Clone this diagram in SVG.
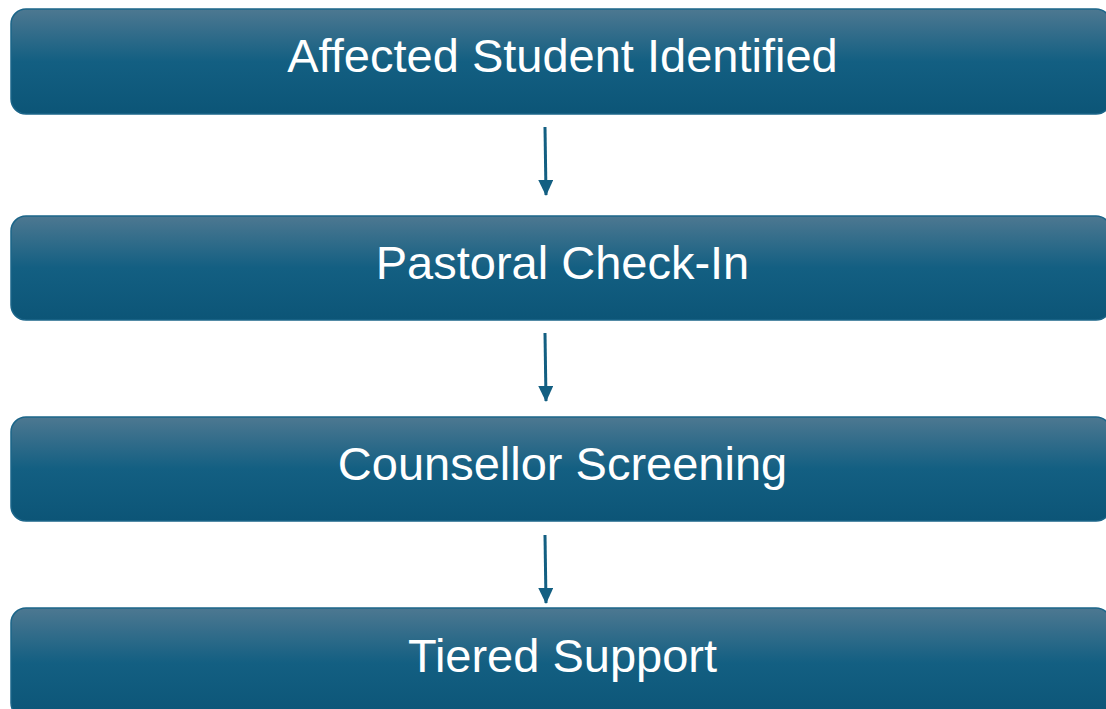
<svg xmlns="http://www.w3.org/2000/svg" width="1106" height="709" viewBox="0 0 1106 709">
  <defs>
    <linearGradient id="g" x1="0" y1="0" x2="0" y2="1">
      <stop offset="0" stop-color="#4d7891"/>
      <stop offset="0.5" stop-color="#135f82"/>
      <stop offset="1" stop-color="#0c5577"/>
    </linearGradient>
    <marker id="ah" markerWidth="16" markerHeight="15" refX="15" refY="7.5" orient="auto" markerUnits="userSpaceOnUse" viewBox="0 0 16 15">
      <path d="M0,0 L16,7.5 L0,15 Z" fill="#135f82"/>
    </marker>
    <style>
      .box { fill: url(#g); stroke: #1b6589; stroke-width: 1.5; }
      .lbl { font-family: "Liberation Sans", Arial, sans-serif; font-size: 47px; fill: #ffffff; text-anchor: middle; }
      .conn { stroke: #135f82; stroke-width: 3; fill: none; }
    </style>
  </defs>
  <rect width="1106" height="709" fill="#ffffff"/>
  <g id="node-affected">
    <rect class="box" x="11" y="9" width="1100" height="105" rx="15"/>
    <text class="lbl" x="562.5" y="72">Affected Student Identified</text>
  </g>
  <g id="node-pastoral">
    <rect class="box" x="11" y="216" width="1100" height="104" rx="15"/>
    <text class="lbl" x="562.5" y="279">Pastoral Check-In</text>
  </g>
  <g id="node-counsellor">
    <rect class="box" x="11" y="417" width="1100" height="104" rx="15"/>
    <text class="lbl" x="562.5" y="480">Counsellor Screening</text>
  </g>
  <g id="node-tiered">
    <rect class="box" x="11" y="608" width="1100" height="110" rx="15"/>
    <text class="lbl" x="562.5" y="672">Tiered Support</text>
  </g>
  <g id="connectors">
    <line class="conn" x1="545" y1="127" x2="546" y2="195" marker-end="url(#ah)"/>
    <line class="conn" x1="545" y1="333" x2="546" y2="401" marker-end="url(#ah)"/>
    <line class="conn" x1="545" y1="535" x2="546" y2="603" marker-end="url(#ah)"/>
  </g>
</svg>
